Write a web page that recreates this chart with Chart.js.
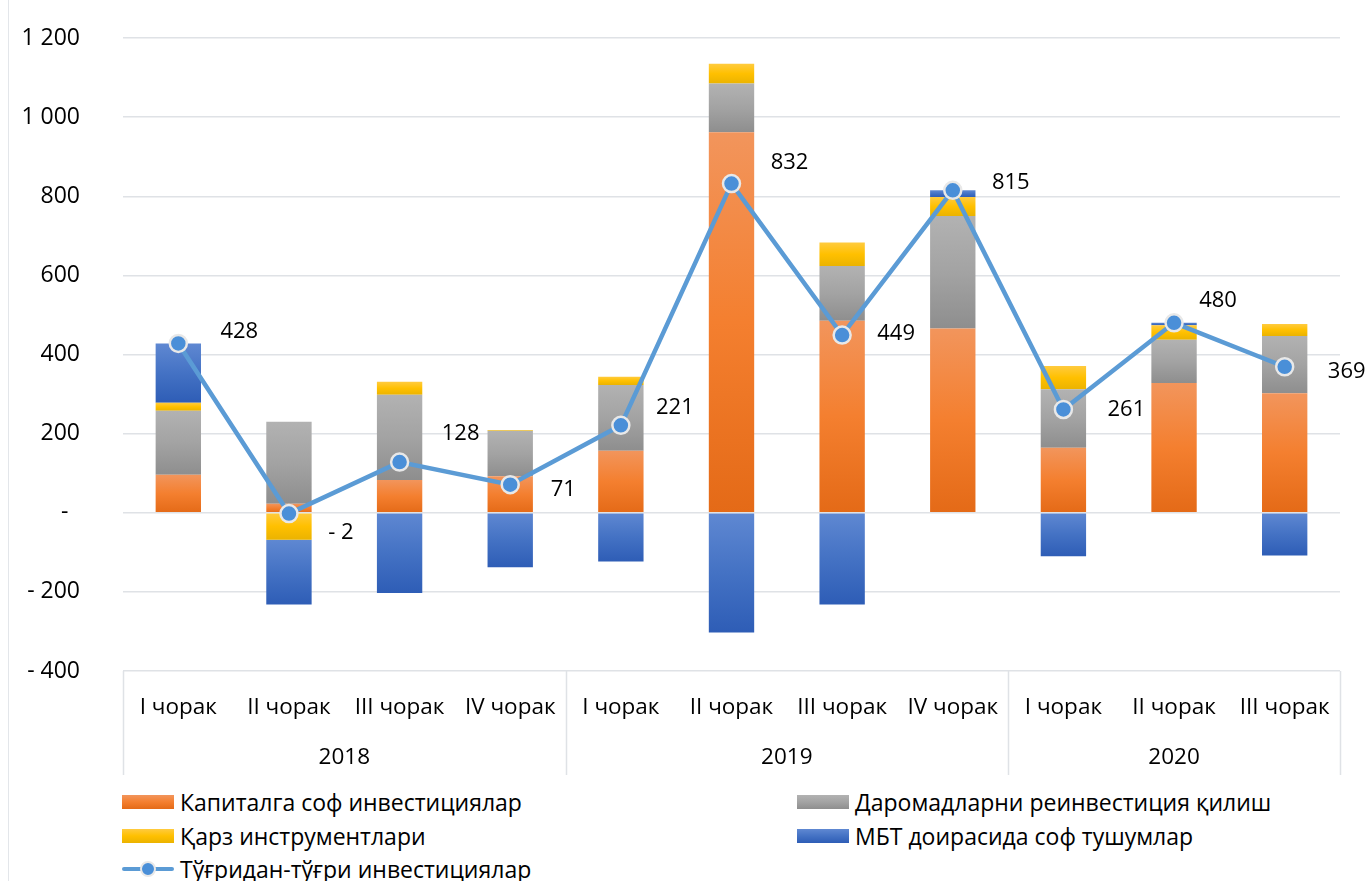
<!DOCTYPE html>
<html><head><meta charset="utf-8">
<script src="https://cdn.jsdelivr.net/npm/chart.js@4.4.1/dist/chart.umd.min.js"></script>
<style>
html,body{margin:0;padding:0;background:#fff;width:1366px;height:881px;overflow:hidden;font-family:'Open Sans',sans-serif;}
#wrap{position:relative;width:1366px;height:881px;}
#c{position:absolute;left:0;top:0;}
.frame{position:absolute;left:8px;top:0;width:1px;height:881px;background:#E3E6EA;}
.leg{position:absolute;display:flex;align-items:center;height:30px;font-size:23px;color:#000;white-space:nowrap;}
.sw{width:52px;height:14px;margin-right:6px;flex:none;}
.lsw{position:relative;width:52px;height:14px;margin-right:6px;flex:none;}
.lsw .ln{position:absolute;left:0;top:5px;width:52px;height:4px;background:#5B9BD5;border-radius:2px;}
.lsw .pt{position:absolute;left:18px;top:-1px;width:12px;height:12px;border-radius:50%;background:#4A8FD8;border:2px solid #E8E8E8;}
</style></head>
<body><div id="wrap"><div class="frame"></div><canvas id="c" width="1366" height="785"></canvas><div id="legend"></div></div>
<script>
const quarters = ['I чорак','II чорак','III чорак','IV чорак','I чорак','II чорак','III чорак','IV чорак','I чорак','II чорак','III чорак'];
const years = ['2018','2019','2020'];
const quartersPerYear = [4,4,3];
const seriesNames = ['Капиталга соф инвестициялар','Даромадларни реинвестиция қилиш','Қарз инструментлари','МБТ доирасида соф тушумлар','Тўғридан-тўғри инвестициялар'];
const capital   = [96, 23, 83, 92, 157, 962, 485, 466, 164, 328, 302];
const reinvest  = [162, 207, 215, 115, 166, 123, 139, 284, 148, 109, 145];
const debt      = [20, -68, 33, 2, 21, 50, 59, 48, 59, 37, 30];
const ibt       = [150, -164, -203, -138, -123, -303, -232, 17, -110, 6, -108];
const fdi       = [428, -2, 128, 71, 221, 832, 449, 815, 261, 480, 369];
const yTicks = {min:-400, max:1200, step:200};
// label placement relative to each point (dx, dy in px)
const labelOffsets = [[61,-12],[52,19],[61,-28],[53,5],[54,-18],[58,-21],[54,-1],[58,-8],[63,0],[44,-22],[62,5]];

const barSeries = [capital, reinvest, debt, ibt];
const palettes = [
  ['#F2955C','#F47F2F','#E46A17'],
  ['#B2B2B2','#A3A3A3','#8E8E8E'],
  ['#FFCB3F','#FFC000','#EBB300'],
  ['#5F88D2','#4472C4','#2E5DB6']
];
const FONT = "'Open Sans', sans-serif";

function fmt(v){
  if (v === 0) return '-';
  const s = Math.abs(v).toString().replace(/\B(?=(\d{3})+(?!\d))/g, ' ');
  return v < 0 ? '- ' + s : s;
}
function tickFmt(v){
  return v === 0 ? '-\u2002' : fmt(v);
}

function gradFor(ctx, pal){
  const chart = ctx.chart, area = chart.chartArea;
  if (!area || ctx.dataIndex === undefined) return pal[1];
  const y = chart.scales.y;
  const d = ctx.datasetIndex, i = ctx.dataIndex;
  const v = barSeries[d][i];
  let base = 0;
  for (let k = 0; k < d; k++) { const w = barSeries[k][i]; if ((w >= 0) === (v >= 0)) base += w; }
  const top = v >= 0 ? base + v : base, bot = v >= 0 ? base : base + v;
  const y0 = y.getPixelForValue(top), y1 = y.getPixelForValue(bot);
  if (!isFinite(y0) || !isFinite(y1) || y1 - y0 < 1) return pal[1];
  const g = chart.ctx.createLinearGradient(0, y0, 0, y1);
  g.addColorStop(0, pal[0]); g.addColorStop(0.5, pal[1]); g.addColorStop(1, pal[2]);
  return g;
}

const datasets = barSeries.map((arr, k) => ({
  type: 'bar', label: seriesNames[k], data: arr, stack: 'bars', order: 1,
  backgroundColor: (ctx) => gradFor(ctx, palettes[k]),
  borderWidth: 0, barPercentage: 0.41, categoryPercentage: 1
}));
datasets.push({
  type: 'line', label: seriesNames[4], data: fdi, stack: 'line', order: 0,
  borderColor: '#5B9BD5', borderWidth: 4.5, tension: 0,
  pointRadius: 8.5, pointBackgroundColor: '#4A8FD8', pointBorderColor: '#E8E8E8', pointBorderWidth: 2.5
});

const gridColor = '#DFE2E6';

const yearAxisPlugin = {
  id: 'yearAxis',
  afterDraw(chart){
    const c = chart.ctx, xs = chart.scales.x, area = chart.chartArea;
    const half = (xs.getPixelForValue(1) - xs.getPixelForValue(0)) / 2;
    const edge = (i) => xs.getPixelForValue(i) - half;
    c.save();
    c.strokeStyle = gridColor; c.lineWidth = 1.5;
    let idx = 0;
    const bounds = [0];
    quartersPerYear.forEach(n => { idx += n; bounds.push(idx); });
    bounds.forEach(b => {
      const x = Math.round(edge(b)) + 0.5;
      c.beginPath(); c.moveTo(x, area.bottom); c.lineTo(x, area.bottom + 104); c.stroke();
    });
    c.fillStyle = '#000'; c.font = '22.5px ' + FONT; c.textAlign = 'center'; c.textBaseline = 'middle';
    years.forEach((yr, j) => {
      const xm = (edge(bounds[j]) + edge(bounds[j+1])) / 2;
      c.fillText(yr, xm, 758);
    });
    c.restore();
  }
};

const pointLabelPlugin = {
  id: 'pointLabels',
  afterDatasetsDraw(chart){
    const meta = chart.getDatasetMeta(4);
    const c = chart.ctx;
    c.save();
    c.fillStyle = '#000'; c.font = '22px ' + FONT; c.textAlign = 'center'; c.textBaseline = 'middle';
    meta.data.forEach((p, i) => {
      c.fillText(fmt(fdi[i]), p.x + labelOffsets[i][0], p.y + labelOffsets[i][1]);
    });
    c.restore();
  }
};

new Chart(document.getElementById('c'), {
  data: { labels: quarters, datasets },
  options: {
    responsive: false, animation: false,
    layout: { padding: { top: 38, right: 26, bottom: 10, left: 0 } },
    plugins: { legend: { display: false }, tooltip: { enabled: false } },
    scales: {
      x: {
        stacked: true,
        grid: { display: false, drawTicks: false },
        border: { display: false },
        ticks: { font: { family: FONT, size: 22.5 }, color: '#000', padding: 23, maxRotation: 0, autoSkip: false },
        afterFit(s){ s.height = 104; }
      },
      y: {
        stacked: true, min: yTicks.min, max: yTicks.max,
        grid: { color: gridColor, lineWidth: 1.5, drawTicks: false },
        border: { display: false },
        ticks: { stepSize: yTicks.step, callback: (v) => tickFmt(v), font: { family: FONT, size: 23 }, color: '#000', padding: 43 },
        afterFit(s){ s.width = 123; s.paddingTop = 0; s.paddingBottom = 0; }
      }
    }
  },
  plugins: [yearAxisPlugin, pointLabelPlugin]
});

// HTML legend
const legendPos = [[122,802],[797,802],[122,836],[797,836],[122,869]];
const leg = document.getElementById('legend');
seriesNames.forEach((name, k) => {
  const d = document.createElement('div');
  d.className = 'leg';
  d.style.left = legendPos[k][0] + 'px';
  d.style.top = (legendPos[k][1] - 15) + 'px';
  let sw;
  if (k < 4) {
    sw = document.createElement('div'); sw.className = 'sw';
    sw.style.background = 'linear-gradient(' + palettes[k][0] + ',' + palettes[k][1] + ',' + palettes[k][2] + ')';
  } else {
    sw = document.createElement('div'); sw.className = 'lsw';
    sw.innerHTML = '<div class="ln"></div><div class="pt"></div>';
  }
  const t = document.createElement('span'); t.textContent = name;
  d.appendChild(sw); d.appendChild(t);
  leg.appendChild(d);
});
</script></body></html>
